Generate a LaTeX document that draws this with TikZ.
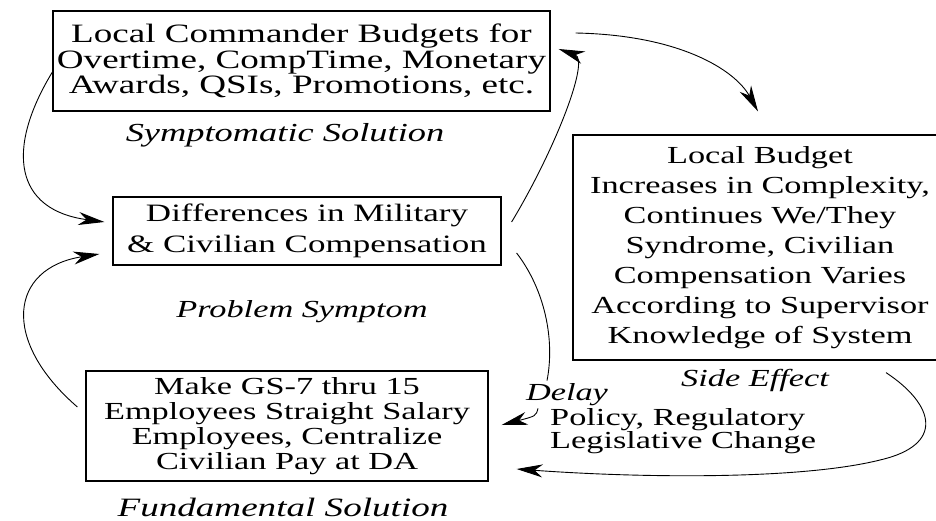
\documentclass[tikz,border=0pt]{standalone}
\usepackage{fontspec}
\setmainfont[FakeStretch=1.4]{Liberation Serif}
\usetikzlibrary{arrows.meta}

\begin{document}
\begin{tikzpicture}[x=1pt,y=-1pt,
        box/.style={draw,line width=1.2pt,inner sep=0pt,align=center},
        lbl/.style={inner sep=0pt,font=\fontsize{24.5}{28}\selectfont\itshape},
        loop/.style={line width=0.9pt,-{Stealth[length=26pt,width=13pt,inset=8pt]}}]
        \useasboundingbox (0,0) rectangle (936,521);
        \clip (0,0) rectangle (936,521);
        %% Boxes
        \node[box,minimum width=497pt,minimum height=100pt,font=\fontsize{26.5}{25.5}\selectfont]
            (budgets) at (301.5,61) {Local Commander Budgets for\\Overtime, CompTime, Monetary\\Awards, QSIs, Promotions, etc.};
        \node[box,minimum width=388pt,minimum height=68pt,font=\fontsize{25}{31}\selectfont]
            (diff) at (307,231) {Differences in Military\\\& Civilian Compensation};
        \node[box,minimum width=374pt,minimum height=225pt,font=\fontsize{24.5}{30}\selectfont]
            (side) at (760,247.5) {Local Budget\\Increases in Complexity,\\Continues We/They\\Syndrome, Civilian\\Compensation Varies\\According to Supervisor\\Knowledge of System};
        \node[box,minimum width=402pt,minimum height=110pt,font=\fontsize{24.5}{25}\selectfont]
            (fund) at (287,426) {Make GS-7 thru 15\\Employees Straight Salary\\Employees, Centralize\\Civilian Pay at DA};
        %% Labels
        \node[lbl,font=\fontsize{26}{28}\selectfont\itshape] (symlbl) at (285,135) {Symptomatic Solution};
        \node[lbl] (problbl) at (302,312) {Problem Symptom};
        \node[lbl] (sidelbl) at (755,380) {Side Effect};
        \node[lbl,font=\fontsize{26.5}{28}\selectfont\itshape] (fundlbl) at (283,507) {Fundamental Solution};
        \node[lbl] (delay) at (567,395) {Delay};
        \node[inner sep=0pt,anchor=west,align=left,font=\fontsize{24.5}{23}\selectfont]
            (policy) at (550,431) {Policy, Regulatory\\Legislative Change};
        %% Loops
        \draw[loop] ([yshift=-11pt]budgets.west) .. controls (5,150) and (15,210) .. ([xshift=-8pt,yshift=9pt]diff.west);
        \draw[loop] ([xshift=10pt,yshift=9pt]diff.east) .. controls (555,150) and (590,60) .. ([xshift=8pt,yshift=12pt]budgets.east);
        \draw[loop] ([xshift=25pt,yshift=28pt]budgets.east) .. controls (680,35) and (735,70) .. ([xshift=-2pt,yshift=23pt]side.north);
        \draw[loop] ([xshift=126pt,yshift=-12pt]side.south) .. controls (935,405) and (945,445) .. (880,460)
            .. controls (800,480) and (640,478) .. ([xshift=28pt,yshift=-43pt]fund.east);
        \draw[line width=0.9pt] ([xshift=15pt,yshift=-22pt]diff.east) .. controls (545,290) and (555,340) .. ([xshift=-20pt,yshift=3pt]delay.north);
        \draw[loop] ([xshift=-29pt,yshift=-2pt]delay.south) .. controls (536,416) .. ([xshift=13pt,yshift=1pt]fund.east);
        \draw[loop] ([xshift=-8pt,yshift=19pt]fund.west) .. controls (0,340) and (10,268) .. ([xshift=-13pt,yshift=-23pt]diff.west);
    \end{tikzpicture}
\end{document}
